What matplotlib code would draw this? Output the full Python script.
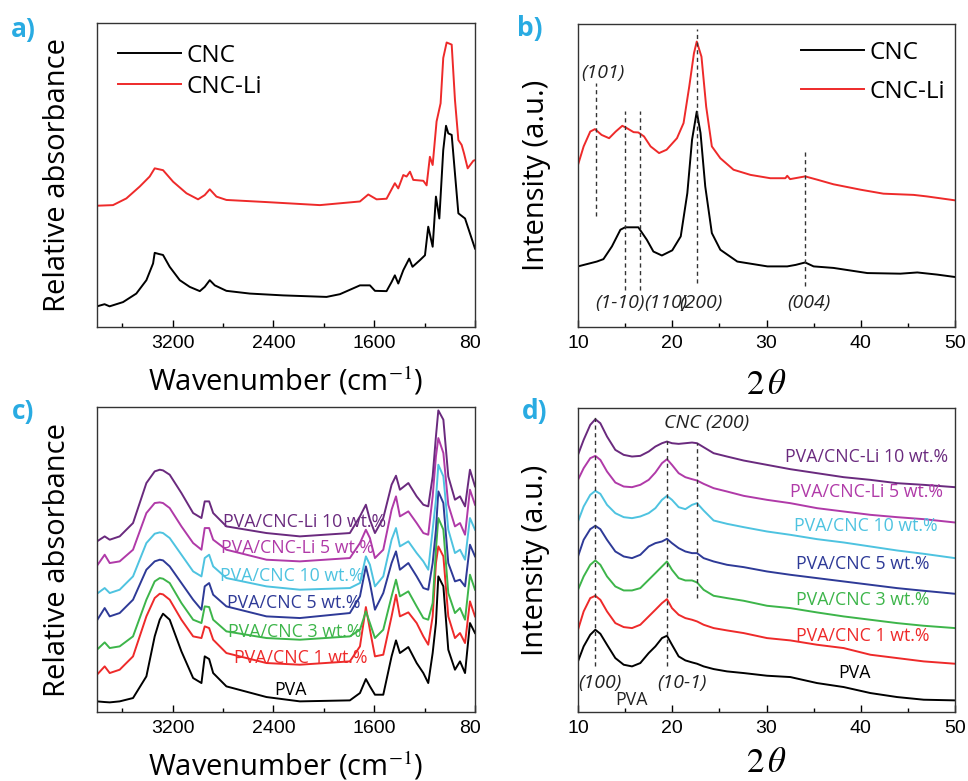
import matplotlib
matplotlib.use("Agg")
import matplotlib.pyplot as plt
from matplotlib.transforms import Bbox, TransformedBbox

plt.rcParams['font.family'] = ['Open Sans', 'DejaVu Sans']
plt.rcParams['mathtext.fontset'] = 'stix'

# ---- a) FTIR, CNC vs CNC-Li ----
wn_cnc = [3800, 3740, 3700, 3593, 3488, 3408, 3355, 3342, 3307, 3276, 3223, 3143, 3064, 2984, 2945,
          2905, 2865, 2773, 2587, 2322, 1978, 1872, 1713, 1634, 1594, 1502, 1462, 1436, 1409, 1369,
          1322, 1296, 1237, 1197, 1171, 1136, 1110, 1083, 1052, 1030, 1012, 985, 959, 932, 879, 840, 800]
ab_cnc = [6.8, 7.5, 6.8, 8.2, 11.0, 15.4, 20.9, 24.4, 24.0, 23.7, 19.8, 15.4, 13.2, 11.8, 13.2,
          15.4, 13.7, 11.9, 11.0, 10.4, 9.9, 10.8, 13.7, 13.7, 11.9, 11.8, 14.8, 17.0, 14.3, 18.7,
          22.5, 19.8, 22.0, 23.6, 33.0, 26.4, 42.9, 35.7, 58.2, 66.2, 63.7, 63.2, 50.5, 37.4, 35.7, 30.8, 25.8]
wn_li = [3800, 3673, 3567, 3461, 3382, 3342, 3276, 3196, 3090, 2998, 2945, 2905, 2852, 2773, 2455,
         2031, 1713, 1647, 1581, 1502, 1436, 1409, 1369, 1343, 1316, 1290, 1210, 1184, 1158, 1136,
         1105, 1073, 1052, 1025, 985, 959, 932, 906, 887, 858, 813, 800]
ab_li = [39.9, 40.1, 42.3, 46.2, 49.5, 52.2, 51.6, 47.8, 44.0, 42.0, 43.4, 45.3, 42.9, 41.8, 41.1,
         40.1, 41.3, 43.6, 42.0, 42.2, 47.3, 45.6, 50.0, 49.5, 51.1, 48.4, 48.1, 46.6, 56.0, 53.3,
         67.6, 73.6, 88.5, 93.6, 92.9, 74.7, 61.5, 59.9, 57.1, 52.2, 54.7, 54.9]

# ---- b) XRD, CNC vs CNC-Li ----
tt_cnc = [10.0, 12.0, 12.7, 13.6, 14.5, 15.0, 16.4, 17.3, 18.0, 18.9, 20.0, 20.9, 21.6, 22.1, 22.6,
          23.0, 23.5, 24.2, 25.1, 26.9, 30.1, 32.2, 33.1, 34.1, 35.0, 37.1, 40.7, 44.2, 46.0, 48.1, 50.0]
in_cnc = [20.0, 21.6, 22.4, 26.6, 32.1, 32.9, 32.9, 28.8, 24.9, 23.6, 25.3, 29.9, 44.2, 61.8, 71.1,
          64.0, 46.4, 31.0, 25.5, 21.6, 20.0, 20.0, 20.5, 21.3, 20.0, 19.5, 17.8, 17.6, 18.0, 17.3, 16.5]
tt_li = [10.0, 10.6, 11.3, 11.8, 12.5, 13.3, 14.0, 14.7, 15.2, 15.9, 16.4, 17.0, 17.7, 18.6, 19.4,
         20.5, 21.2, 21.8, 22.3, 22.6, 23.1, 23.6, 24.2, 25.1, 26.5, 28.3, 30.4, 32.0, 32.2, 32.5,
         34.1, 35.4, 37.1, 40.0, 42.4, 45.6, 47.0, 50.0]
in_li = [53.5, 59.6, 64.5, 65.3, 63.4, 62.3, 64.5, 66.4, 65.6, 64.3, 64.2, 62.9, 59.6, 57.4, 58.5,
         62.3, 67.3, 79.3, 90.3, 94.2, 89.2, 72.7, 59.6, 55.7, 51.9, 50.2, 49.1, 49.1, 49.9, 48.8,
         49.7, 48.6, 47.1, 45.3, 44.0, 43.6, 43.1, 41.8]
peaks_b = [11.9, 15.0, 16.6, 22.6, 34.05]
peak_lo_b = [36.5, 12.3, 12.3, 14.5, 13.4]
peak_hi_b = [80.4, 71.3, 71.3, 98.2, 57.9]

# ---- c) FTIR of films ----
wn_c = [3800, 3739, 3699, 3620, 3514, 3408, 3342, 3302, 3276, 3223, 3130, 3037, 2971, 2945, 2910,
        2878, 2773, 2455, 2190, 1793, 1713, 1666, 1634, 1594, 1528, 1462, 1427, 1396, 1329, 1263,
        1210, 1171, 1136, 1110, 1091, 1051, 1012, 959, 919, 879, 840, 800]
c_pva = [3.2, 3.0, 2.9, 3.2, 4.2, 10.7, 22.7, 27.7, 29.5, 27.7, 18.2, 10.2, 8.7, 16.7, 15.9,
         11.7, 7.7, 4.5, 3.2, 3.5, 5.7, 9.9, 7.7, 5.2, 5.2, 16.7, 21.5, 17.7, 19.5, 14.7,
         11.7, 8.7, 17.7, 26.7, 40.7, 37.7, 18.7, 12.7, 15.2, 11.7, 26.7, 23.7]
c_cnc1 = [11.2, 13.7, 11.7, 12.7, 16.7, 28.7, 34.2, 35.5, 35.3, 33.7, 27.7, 22.7, 22.2, 25.7, 25.2,
          21.7, 17.7, 14.7, 14.2, 15.2, 19.7, 31.5, 24.7, 16.7, 17.2, 28.7, 35.2, 28.7, 29.9, 26.7,
          22.7, 20.2, 28.7, 44.7, 49.7, 46.7, 28.7, 22.2, 23.7, 20.7, 33.2, 28.7]
c_cnc3 = [18.7, 20.9, 19.2, 19.7, 22.7, 33.7, 39.2, 40.2, 40.0, 38.7, 32.7, 27.7, 26.7, 31.7, 31.5,
          27.7, 24.2, 22.2, 21.7, 22.7, 24.7, 30.2, 26.7, 22.2, 24.7, 34.7, 39.7, 34.7, 36.2, 31.7,
          28.2, 27.7, 32.7, 48.7, 58.2, 54.7, 35.7, 29.7, 31.2, 27.7, 41.2, 36.7]
c_cnc5 = [27.5, 31.2, 28.7, 29.7, 33.7, 42.7, 45.2, 45.7, 45.5, 43.7, 38.7, 33.7, 30.7, 37.7, 38.7,
          35.2, 31.7, 28.7, 28.2, 29.7, 34.7, 43.7, 38.7, 30.7, 35.7, 44.7, 48.2, 42.7, 44.7, 40.7,
          37.2, 36.7, 44.7, 54.7, 66.2, 62.7, 44.7, 39.2, 39.7, 37.7, 50.2, 46.7]
c_cnc10 = [35.5, 37.2, 35.7, 36.7, 40.7, 50.7, 53.5, 53.9, 53.7, 52.2, 47.2, 42.2, 40.7, 46.2, 47.2,
           43.7, 40.2, 37.7, 36.7, 37.2, 38.7, 46.7, 44.2, 37.7, 40.7, 51.7, 55.2, 49.7, 51.2, 47.7,
           45.2, 42.7, 54.7, 63.7, 74.2, 70.7, 54.7, 47.7, 48.7, 45.7, 58.2, 54.7]
c_li5 = [43.9, 47.2, 44.7, 45.2, 48.7, 59.7, 62.7, 62.9, 62.7, 61.2, 55.7, 50.7, 48.7, 55.2, 55.2,
         51.7, 48.7, 45.7, 45.2, 46.2, 50.7, 54.7, 52.2, 46.2, 48.7, 60.7, 64.7, 58.7, 60.2, 56.7,
         53.7, 53.2, 64.7, 76.7, 82.2, 77.7, 62.2, 55.7, 56.7, 53.2, 66.7, 62.2]
c_li10 = [51.2, 52.7, 51.7, 52.7, 56.7, 68.7, 72.2, 72.7, 72.5, 71.2, 65.7, 59.7, 58.2, 63.2, 63.2,
          59.7, 55.7, 53.7, 52.7, 53.7, 58.7, 62.2, 57.7, 53.7, 58.2, 68.2, 70.9, 66.7, 68.7, 64.7,
          62.2, 61.7, 70.7, 82.7, 90.5, 87.7, 70.7, 63.7, 64.7, 61.7, 72.7, 67.7]

# ---- d) XRD of films ----
tt_d = [10.0, 10.6, 11.3, 11.84, 12.37, 13.08, 13.96, 14.85, 15.73, 16.61, 17.5, 18.21, 18.91, 19.44,
        19.97, 20.68, 21.39, 22.1, 22.63, 23.33, 24.39, 25.81, 27.58, 30.05, 32.53, 35.36, 38.19,
        41.02, 43.85, 46.68, 50.0]
d_pva = [15.2, 19.7, 23.2, 24.7, 23.5, 20.2, 16.2, 14.2, 13.7, 14.7, 17.7, 19.7, 22.2, 22.9, 20.2,
         16.7, 15.5, 14.9, 14.5, 13.7, 12.9, 12.2, 11.7, 10.9, 10.5, 8.7, 7.5, 5.7, 4.5, 3.7, 3.5]
d_cnc1 = [24.7, 30.2, 34.2, 34.9, 33.7, 30.2, 26.7, 25.5, 25.2, 26.2, 28.7, 30.7, 32.7, 33.9, 31.2,
          29.2, 28.2, 27.7, 27.2, 26.2, 25.2, 24.5, 23.7, 22.2, 21.5, 20.2, 19.2, 17.2, 16.2, 15.2, 14.5]
d_cnc3 = [36.7, 40.7, 44.2, 45.5, 44.2, 40.7, 37.7, 36.5, 36.5, 37.2, 39.7, 41.7, 43.7, 45.2, 42.7,
          40.2, 39.5, 39.5, 38.9, 36.7, 34.9, 34.2, 33.4, 31.9, 31.2, 29.9, 28.7, 27.7, 26.7, 25.9, 25.2]
d_cnc5 = [46.7, 51.7, 54.9, 55.9, 54.9, 51.7, 48.2, 46.7, 46.2, 47.2, 49.7, 50.7, 51.2, 52.0, 50.7,
          49.2, 48.2, 47.7, 47.7, 46.2, 45.2, 44.2, 43.5, 42.2, 41.2, 40.2, 39.2, 38.2, 37.2, 36.4, 35.5]
d_cnc10 = [57.2, 61.7, 65.2, 66.4, 65.5, 62.2, 59.7, 58.5, 58.2, 58.7, 59.7, 61.2, 63.7, 64.9, 63.7,
           61.5, 60.9, 62.2, 62.7, 60.5, 57.5, 56.5, 55.5, 54.2, 53.2, 51.9, 50.9, 49.7, 48.5, 47.5, 46.2]
d_li5 = [69.7, 73.2, 76.2, 76.9, 75.7, 72.2, 68.9, 67.7, 67.5, 68.2, 69.7, 71.9, 74.7, 75.9, 74.2,
         71.7, 70.5, 69.9, 69.5, 68.5, 67.2, 66.2, 64.9, 63.7, 62.7, 61.2, 60.2, 59.2, 58.5, 57.9, 56.9]
d_li10 = [77.2, 81.7, 86.2, 87.9, 86.7, 82.7, 78.7, 77.2, 76.7, 76.9, 78.2, 79.7, 80.7, 81.2, 80.7,
          80.5, 80.7, 80.9, 80.7, 79.5, 77.7, 76.7, 75.5, 74.2, 72.9, 71.7, 70.5, 69.7, 68.7, 68.2, 67.5]
peaks_d = [11.84, 19.4, 22.63]
peak_lo_d = [13.7, 13.7, 34.2]
peak_hi_d = [89.5, 81.5, 80.9]

names = ['PVA', 'PVA/CNC 1 wt.%', 'PVA/CNC 3 wt.%', 'PVA/CNC 5 wt.%', 'PVA/CNC 10 wt.%',
         'PVA/CNC-Li 5 wt.%', 'PVA/CNC-Li 10 wt.%']
colors = ['black', '#ee2a2a', '#3db54a', '#2e3a97', '#4ec3e0', '#b03aa8', '#6a2a7e']
c_series = [c_pva, c_cnc1, c_cnc3, c_cnc5, c_cnc10, c_li5, c_li10]
d_series = [d_pva, d_cnc1, d_cnc3, d_cnc5, d_cnc10, d_li5, d_li10]
# label anchors (x, y)
c_lab = [(2267, 6.7), (2185, 16.2), (2227, 23.9), (2235, 32.7), (2256, 40.7), (2209, 49.2), (2153, 56.9)]
d_lab = [(39.3, 11.7), (33.1, 22.7), (33.1, 33.7), (33.1, 44.5), (32.9, 55.7), (32.5, 66.2), (32.0, 76.7)]

fig = plt.figure(figsize=(9.68, 7.81), dpi=100)
ax_a = fig.add_axes([0.1002, 0.5813, 0.3905, 0.3892])
ax_b = fig.add_axes([0.5971, 0.5813, 0.3895, 0.3880])
ax_c = fig.add_axes([0.1002, 0.0883, 0.3905, 0.3905])
ax_d = fig.add_axes([0.5971, 0.0883, 0.3895, 0.3890])

def style(ax):
    for s in ax.spines.values():
        s.set_linewidth(1.0)
        s.set_color('#333333')
    ax.tick_params(axis='x', which='both', direction='in', top=False)
    ax.tick_params(axis='x', which='major', length=5, width=1, pad=6)
    ax.tick_params(axis='x', which='minor', length=3, width=1)
    ax.set_yticks([])
    for lb in ax.get_xticklabels():
        lb.set_fontfamily('Liberation Sans')
        lb.set_fontsize(14)

def ftir_axis(ax):
    ax.set_xlim(3800, 800)
    ax.set_xticks([3200, 2400, 1600, 800])
    ax.set_xticks([3600, 2800, 2000, 1200], minor=True)
    ax.set_xlabel('Wavenumber (cm$^{-1}$)', fontsize=21)
    ax.xaxis.set_label_coords(0.5, -0.125)
    ax.set_ylabel('Relative absorbance', fontsize=21)
    ax.yaxis.set_label_coords(-0.067, 0.5)
    style(ax)

def xrd_axis(ax):
    ax.set_xlim(10, 50)
    ax.set_xticks([10, 20, 30, 40, 50])
    ax.set_xticks([15, 25, 35, 45], minor=True)
    ax.set_xlabel(r'$2\,\theta$', fontsize=25)
    ax.set_ylabel('Intensity (a.u.)', fontsize=21)
    style(ax)

# a
ax_a.plot(wn_cnc, ab_cnc, color='black', lw=1.4, label='CNC')
ax_a.plot(wn_li, ab_li, color='#ee2a2a', lw=1.4, label='CNC-Li')
ax_a.set_ylim(0, 100)
ftir_axis(ax_a)
ax_a.legend(loc='upper left', frameon=False, fontsize=17.5, handlelength=2.6,
            handletextpad=0.25, labelspacing=0.3, borderaxespad=0.45,
            bbox_to_anchor=(0.0, 1.0))

# b
ax_b.plot(tt_cnc, in_cnc, color='black', lw=1.4, label='CNC')
ax_b.plot(tt_li, in_li, color='#ee2a2a', lw=1.4, label='CNC-Li')
ax_b.vlines(peaks_b, peak_lo_b, peak_hi_b, colors='#333333', linestyles=(0, (3, 2.5)), lw=1)
ax_b.set_ylim(0, 100)
xrd_axis(ax_b)
ax_b.yaxis.set_label_coords(-0.072, 0.5)
ax_b.xaxis.set_label_coords(0.5, -0.135)
ax_b.legend(loc='upper right', frameon=False, fontsize=17.5, handlelength=2.6,
            handletextpad=0.25, labelspacing=0.6, borderaxespad=0.3,
            bbox_to_anchor=(1.02, 1.0))
it = dict(style='italic', fontsize=14, color='#222222', va='center')
ax_b.text(12.6, 83.7, '(101)', ha='center', **it)
ax_b.text(11.8, 7.9, '(1-10)', ha='left', **it)
ax_b.text(17.0, 7.9, '(110)', ha='left', **it)
ax_b.text(20.7, 7.9, '(200)', ha='left', **it)
ax_b.text(32.2, 7.9, '(004)', ha='left', **it)

# c
for y, col, nm, (lx, ly) in zip(c_series, colors, names, c_lab):
    ax_c.plot(wn_c, y, color=col, lw=1.4)
    ax_c.text(lx, ly, nm, color=col, fontsize=12.8, ha='center', va='center')
ax_c.set_ylim(0, 91.5)
ftir_axis(ax_c)

# d
for y, col, nm, (lx, ly) in zip(d_series, colors, names, d_lab):
    ax_d.plot(tt_d, y, color=col, lw=1.4)
    ax_d.text(lx, ly, nm, color=col, fontsize=12.8, ha='center' if nm == 'PVA' else 'left',
              va='center')
ax_d.vlines(peaks_d, peak_lo_d, peak_hi_d, colors='#333333', linestyles=(0, (3, 2.5)), lw=1)
ax_d.set_ylim(0, 91.2)
xrd_axis(ax_d)
ax_d.yaxis.set_label_coords(-0.075, 0.5)
ax_d.xaxis.set_label_coords(0.5, -0.113)
ax_d.text(23.6, 86.7, 'CNC (200)', ha='center', **it)
ax_d.text(12.3, 8.7, '(100)', ha='center', **it)
ax_d.text(21.0, 8.7, '(10-1)', ha='center', **it)
ax_d.text(15.7, 3.7, 'PVA', ha='center', va='center', fontsize=12.8, color='#222222')

# panel letters
blue = '#29abe2'
for lab, x, y in [('a)', 0.024, 0.9616), ('b)', 0.547, 0.9641), ('c)', 0.024, 0.4725), ('d)', 0.552, 0.4725)]:
    fig.text(x, y, lab, color=blue, fontsize=19, fontweight='bold', ha='center', va='center')

# the right-most FTIR tick label is cut by the panel edge in the composite
fig.canvas.draw()
cut = TransformedBbox(Bbox([[0, 0], [481 / 968, 1]]), fig.transFigure)
for ax in (ax_a, ax_c):
    for lb in ax.get_xticklabels():
        lb.set_clip_on(True)
        lb.set_clip_box(cut)

fig.savefig('out.png', dpi=100)
